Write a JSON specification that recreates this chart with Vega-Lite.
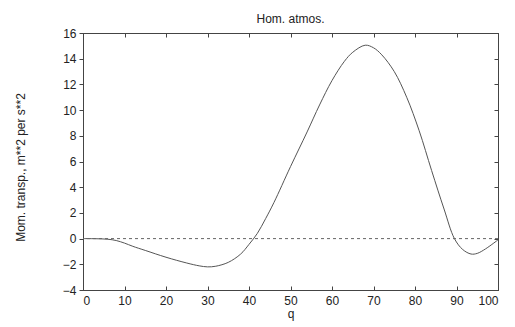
{
  "$schema": "https://vega.github.io/schema/vega-lite/v6.json",
  "autosize": "none",
  "width": 415,
  "height": 257,
  "padding": {"left": 83, "top": 33, "right": 17, "bottom": 37},
  "background": "white",
  "title": {"text": "Hom. atmos.", "font": "Liberation Sans", "fontSize": 12, "fontWeight": "normal", "color": "#222", "offset": 1, "anchor": "middle"},
  "config": {
    "view": {"stroke": "#444", "strokeWidth": 1},
    "axis": {"labelFont": "Liberation Sans", "titleFont": "Liberation Sans", "labelFontSize": 12, "titleFontSize": 12, "titleFontWeight": "normal", "labelColor": "#222", "titleColor": "#222", "grid": false, "domainColor": "#444", "tickColor": "#444", "tickSize": 4}
  },
  "data": {"values": [
    {"q": 0, "v": 0}, {"q": 3, "v": -0.01}, {"q": 6, "v": -0.05}, {"q": 8, "v": -0.15},
    {"q": 10, "v": -0.35}, {"q": 12, "v": -0.6}, {"q": 15, "v": -0.92}, {"q": 20, "v": -1.45},
    {"q": 25, "v": -1.9}, {"q": 28, "v": -2.12}, {"q": 30, "v": -2.2}, {"q": 32, "v": -2.15},
    {"q": 35, "v": -1.85}, {"q": 38, "v": -1.2}, {"q": 40, "v": -0.45}, {"q": 42, "v": 0.4},
    {"q": 44, "v": 1.55}, {"q": 46, "v": 2.8}, {"q": 50, "v": 5.6}, {"q": 54, "v": 8.3},
    {"q": 57, "v": 10.4}, {"q": 60, "v": 12.3}, {"q": 63, "v": 13.8}, {"q": 65, "v": 14.5},
    {"q": 68, "v": 15.05}, {"q": 70, "v": 14.85}, {"q": 72, "v": 14.3}, {"q": 75, "v": 13.0},
    {"q": 78, "v": 11.0}, {"q": 81, "v": 8.4}, {"q": 84, "v": 5.3}, {"q": 87, "v": 2.3},
    {"q": 89.5, "v": 0}, {"q": 91.5, "v": -0.85}, {"q": 93.5, "v": -1.2}, {"q": 95, "v": -1.15},
    {"q": 97, "v": -0.8}, {"q": 100, "v": -0.1}
  ]},
  "resolve": {"axis": {"x": "independent", "y": "independent"}},
  "layer": [
    {
      "mark": {"type": "line", "color": "#555", "strokeWidth": 1, "interpolate": "catmull-rom"},
      "encoding": {
        "x": {"field": "q", "type": "quantitative", "scale": {"domain": [0, 100], "nice": false},
          "axis": {"title": "q", "values": [0,10,20,30,40,50,60,70,80,90,100], "tickSize": -4, "labelPadding": 9, "titlePadding": 2}},
        "y": {"field": "v", "type": "quantitative", "scale": {"domain": [-4, 16], "nice": false},
          "axis": {"title": "Mom. transp., m**2 per s**2", "values": [-4,-2,0,2,4,6,8,10,12,14,16], "tickSize": 4, "labelPadding": 3, "titleX": -63, "titleY": 134, "titleBaseline": "middle", "titleAlign": "center", "titleAngle": 270}}
      }
    },
    {
      "mark": {"type": "rule", "color": "#666", "strokeDash": [3, 3], "strokeWidth": 1},
      "data": {"values": [{"z": 0}]},
      "encoding": {
        "y": {"field": "z", "type": "quantitative", "scale": {"domain": [-4, 16], "nice": false},
          "axis": {"orient": "right", "title": null, "labels": false, "values": [-4,-2,0,2,4,6,8,10,12,14,16], "tickSize": -4}}
      }
    },
    {
      "mark": {"type": "point", "opacity": 0},
      "data": {"values": [{"a": 0}]},
      "encoding": {
        "x": {"field": "a", "type": "quantitative", "scale": {"domain": [0, 100], "nice": false},
          "axis": {"orient": "top", "title": null, "labels": false, "values": [0,10,20,30,40,50,60,70,80,90,100], "tickSize": -4}}
      }
    }
  ]
}
